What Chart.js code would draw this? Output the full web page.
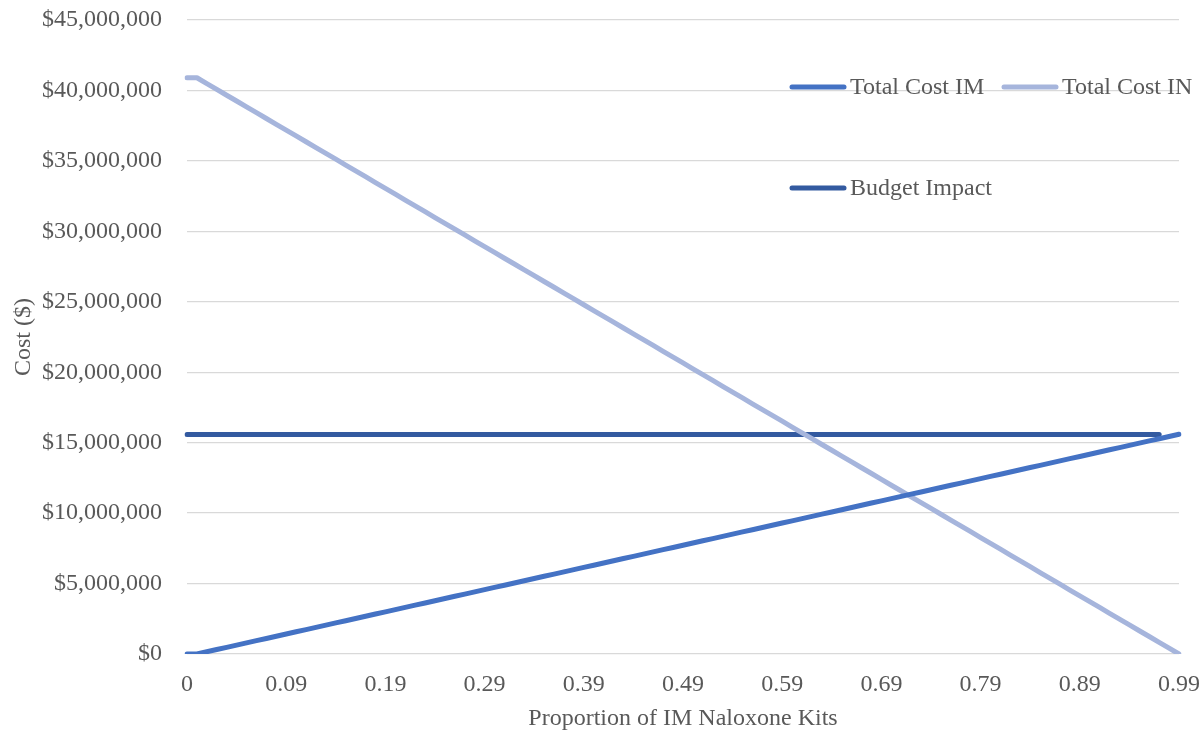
<!DOCTYPE html>
<html>
<head>
<meta charset="utf-8">
<script src="https://cdn.jsdelivr.net/npm/chart.js@4.4.1/dist/chart.umd.min.js"></script>
<style>
  html, body { margin: 0; padding: 0; background: #fff; }
  #wrap { width: 1204px; height: 736px; }
</style>
</head>
<body>
<div id="wrap"><canvas id="chart" width="1204" height="736"></canvas></div>
<script>
"use strict";

// proportion of IM kits (first two points are both 0)
var proportions = [0, 0,
  0.01, 0.02, 0.03, 0.04, 0.05, 0.06, 0.07, 0.08, 0.09, 0.10,
  0.11, 0.12, 0.13, 0.14, 0.15, 0.16, 0.17, 0.18, 0.19, 0.20,
  0.21, 0.22, 0.23, 0.24, 0.25, 0.26, 0.27, 0.28, 0.29, 0.30,
  0.31, 0.32, 0.33, 0.34, 0.35, 0.36, 0.37, 0.38, 0.39, 0.40,
  0.41, 0.42, 0.43, 0.44, 0.45, 0.46, 0.47, 0.48, 0.49, 0.50,
  0.51, 0.52, 0.53, 0.54, 0.55, 0.56, 0.57, 0.58, 0.59, 0.60,
  0.61, 0.62, 0.63, 0.64, 0.65, 0.66, 0.67, 0.68, 0.69, 0.70,
  0.71, 0.72, 0.73, 0.74, 0.75, 0.76, 0.77, 0.78, 0.79, 0.80,
  0.81, 0.82, 0.83, 0.84, 0.85, 0.86, 0.87, 0.88, 0.89, 0.90,
  0.91, 0.92, 0.93, 0.94, 0.95, 0.96, 0.97, 0.98, 0.99];

// costs in $ millions
var totalCostIM = [0.00, 0.00,
  0.16, 0.32, 0.47, 0.63, 0.79, 0.95, 1.10, 1.26, 1.42, 1.58,
  1.73, 1.89, 2.05, 2.21, 2.36, 2.52, 2.68, 2.84, 2.99, 3.15,
  3.31, 3.47, 3.62, 3.78, 3.94, 4.10, 4.25, 4.41, 4.57, 4.73,
  4.88, 5.04, 5.20, 5.36, 5.52, 5.67, 5.83, 5.99, 6.15, 6.30,
  6.46, 6.62, 6.78, 6.93, 7.09, 7.25, 7.41, 7.56, 7.72, 7.88,
  8.04, 8.19, 8.35, 8.51, 8.67, 8.82, 8.98, 9.14, 9.30, 9.45,
  9.61, 9.77, 9.93, 10.08, 10.24, 10.40, 10.56, 10.72, 10.87, 11.03,
  11.19, 11.35, 11.50, 11.66, 11.82, 11.98, 12.13, 12.29, 12.45, 12.61,
  12.76, 12.92, 13.08, 13.24, 13.39, 13.55, 13.71, 13.87, 14.02, 14.18,
  14.34, 14.50, 14.65, 14.81, 14.97, 15.13, 15.28, 15.44, 15.60];

var totalCostIN = [40.90, 40.90,
  40.49, 40.07, 39.66, 39.25, 38.83, 38.42, 38.01, 37.59, 37.18, 36.77,
  36.36, 35.94, 35.53, 35.12, 34.70, 34.29, 33.88, 33.46, 33.05, 32.64,
  32.22, 31.81, 31.40, 30.98, 30.57, 30.16, 29.75, 29.33, 28.92, 28.51,
  28.09, 27.68, 27.27, 26.85, 26.44, 26.03, 25.61, 25.20, 24.79, 24.37,
  23.96, 23.55, 23.14, 22.72, 22.31, 21.90, 21.48, 21.07, 20.66, 20.24,
  19.83, 19.42, 19.00, 18.59, 18.18, 17.76, 17.35, 16.94, 16.53, 16.11,
  15.70, 15.29, 14.87, 14.46, 14.05, 13.63, 13.22, 12.81, 12.39, 11.98,
  11.57, 11.15, 10.74, 10.33, 9.92, 9.50, 9.09, 8.68, 8.26, 7.85,
  7.44, 7.02, 6.61, 6.20, 5.78, 5.37, 4.96, 4.54, 4.13, 3.72,
  3.31, 2.89, 2.48, 2.07, 1.65, 1.24, 0.83, 0.41, 0.00];

var budgetImpact = [15.58, 15.58,
  15.58, 15.58, 15.58, 15.58, 15.58, 15.58, 15.58, 15.58, 15.58, 15.58,
  15.58, 15.58, 15.58, 15.58, 15.58, 15.58, 15.58, 15.58, 15.58, 15.58,
  15.58, 15.58, 15.58, 15.58, 15.58, 15.58, 15.58, 15.58, 15.58, 15.58,
  15.58, 15.58, 15.58, 15.58, 15.58, 15.58, 15.58, 15.58, 15.58, 15.58,
  15.58, 15.58, 15.58, 15.58, 15.58, 15.58, 15.58, 15.58, 15.58, 15.58,
  15.58, 15.58, 15.58, 15.58, 15.58, 15.58, 15.58, 15.58, 15.58, 15.58,
  15.58, 15.58, 15.58, 15.58, 15.58, 15.58, 15.58, 15.58, 15.58, 15.58,
  15.58, 15.58, 15.58, 15.58, 15.58, 15.58, 15.58, 15.58, 15.58, 15.58,
  15.58, 15.58, 15.58, 15.58, 15.58, 15.58, 15.58, 15.58, 15.58, 15.58,
  15.58, 15.58, 15.58, 15.58, 15.58, 15.58, 15.58, null, null];

var yTicksMillions = [0, 5, 10, 15, 20, 25, 30, 35, 40, 45];

var FONT = "'Liberation Serif', 'Times New Roman', serif";
var TEXT = '#595959';

function toDollars(arr) {
  return arr.map(function (v) { return v === null ? null : v * 1000000; });
}

function money(v) {
  return '$' + Math.round(v).toString().replace(/\B(?=(\d{3})+(?!\d))/g, ',');
}

// legend drawn inside the plot, like the Excel original
var insideLegend = {
  id: 'insideLegend',
  afterDraw: function (chart) {
    var ctx = chart.ctx;
    var ds = chart.data.datasets;
    var spots = [[790, 87], [1002, 87], [790, 188]];
    ctx.save();
    ctx.font = '24px ' + FONT;
    ctx.textBaseline = 'middle';
    ctx.textAlign = 'left';
    ds.forEach(function (d, i) {
      var p = spots[i];
      ctx.strokeStyle = d.borderColor;
      ctx.lineWidth = 5;
      ctx.lineCap = 'round';
      ctx.beginPath();
      ctx.moveTo(p[0] + 2, p[1]);
      ctx.lineTo(p[0] + 54, p[1]);
      ctx.stroke();
      ctx.fillStyle = TEXT;
      ctx.fillText(d.label, p[0] + 60, p[1] + 1);
    });
    ctx.restore();
  }
};

var ctx = document.getElementById('chart').getContext('2d');

new Chart(ctx, {
  type: 'line',
  data: {
    labels: proportions,
    datasets: [{
      label: 'Total Cost IM',
      data: toDollars(totalCostIM),
      borderColor: '#4472C4'
    }, {
      label: 'Total Cost IN',
      data: toDollars(totalCostIN),
      borderColor: '#A6B5DC'
    }, {
      label: 'Budget Impact',
      data: toDollars(budgetImpact),
      borderColor: '#335AA0'
    }].map(function (d) {
      d.borderWidth = 5;
      d.pointRadius = 0;
      d.tension = 0;
      d.fill = false;
      d.borderCapStyle = 'round';
      d.borderJoinStyle = 'round';
      d.spanGaps = false;
      return d;
    })
  },
  options: {
    responsive: false,
    animation: false,
    layout: { padding: { top: 20, right: 25, left: 0, bottom: 0 } },
    plugins: {
      legend: { display: false },
      tooltip: { enabled: false }
    },
    scales: {
      x: {
        type: 'category',
        offset: false,
        grid: { display: false },
        border: { display: false },
        ticks: {
          autoSkip: false,
          maxRotation: 0,
          minRotation: 0,
          padding: 8,
          color: TEXT,
          font: { family: FONT, size: 24 },
          callback: function (val, idx) {
            if (idx % 10 !== 0) return '';
            var p = proportions[idx];
            return p === 0 && idx === 0 ? '0' : p.toFixed(2);
          }
        },
        title: {
          display: true,
          text: 'Proportion of IM Naloxone Kits',
          color: TEXT,
          font: { family: FONT, size: 24 },
          padding: { top: 0, bottom: 3 }
        },
        afterFit: function (s) {
          s.height = 82;
          s.paddingLeft = 0;
          s.paddingRight = 0;
        }
      },
      y: {
        min: 0,
        max: 45000000,
        afterBuildTicks: function (s) {
          s.ticks = yTicksMillions.map(function (v) { return { value: v * 1000000 }; });
        },
        grid: {
          color: '#D9D9D9',
          lineWidth: 1.3,
          drawTicks: true,
          tickLength: 25,
          tickColor: 'rgba(0,0,0,0)'
        },
        border: { display: false },
        ticks: {
          padding: 0,
          color: TEXT,
          font: { family: FONT, size: 24 },
          callback: function (v) { return money(v); }
        },
        title: {
          display: true,
          text: 'Cost ($)',
          color: TEXT,
          font: { family: FONT, size: 24 },
          padding: { top: 9, bottom: 0 }
        },
        afterFit: function (s) { s.width = 187; }
      }
    }
  },
  plugins: [insideLegend]
});
</script>
</body>
</html>
